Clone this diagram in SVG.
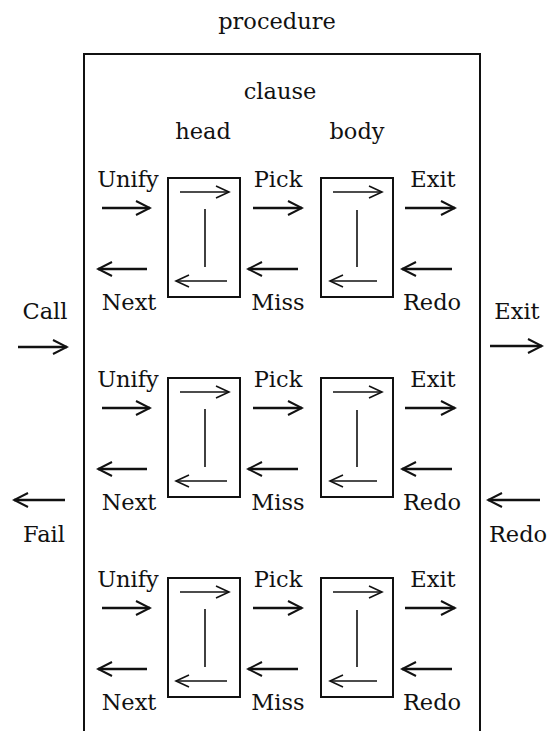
<svg xmlns="http://www.w3.org/2000/svg" width="559" height="731" viewBox="0 0 559 731">
<defs>
<style>
text{font-family:"DejaVu Serif","Liberation Serif",serif;font-size:22.5px;fill:#111;text-anchor:middle}
.box{fill:none;stroke:#111;stroke-width:2}
.a{fill:none;stroke:#111;stroke-width:2.5;marker-end:url(#ah)}
.ai{fill:none;stroke:#111;stroke-width:1.6;marker-end:url(#ahi)}
.ln{fill:none;stroke:#111;stroke-width:1.6}
</style>
<marker id="ah" markerUnits="userSpaceOnUse" viewBox="-16 -9 18 18" markerWidth="18" markerHeight="18" refX="0" refY="0" orient="auto">
<path d="M-14,-7 L0,0 L-14,7" fill="none" stroke="#111" stroke-width="2"/>
</marker>
<marker id="ahi" markerUnits="userSpaceOnUse" viewBox="-16 -9 18 18" markerWidth="18" markerHeight="18" refX="0" refY="0" orient="auto">
<path d="M-13,-6 L0,0 L-13,6" fill="none" stroke="#111" stroke-width="1.6"/>
</marker>
<g id="row">
<text x="128" y="187">Unify</text>
<text x="278" y="187">Pick</text>
<text x="433" y="187">Exit</text>
<text x="129" y="310">Next</text>
<text x="278" y="310">Miss</text>
<text x="432" y="310">Redo</text>
</g>
</defs>
<g id="procedure">
<text x="277" y="29">procedure</text>
<path class="box" d="M84,731 L84,54 L480,54 L480,731"/>
<text x="280" y="99">clause</text>
<text x="203" y="139">head</text>
<text x="357" y="139">body</text>
<text x="45" y="319">Call</text>
<text x="44" y="542">Fail</text>
<text x="517" y="319">Exit</text>
<text x="518" y="542">Redo</text>
</g>
<g id="clause1">
<use href="#row"/>
<g id="head1"><rect class="box" x="168" y="178" width="72" height="119"/></g>
<g id="body1"><rect class="box" x="321" y="178" width="72" height="119"/></g>
</g>
<g id="clause2" transform="translate(0,200)">
<use href="#row"/>
<g id="head2"><rect class="box" x="168" y="178" width="72" height="119"/></g>
<g id="body2"><rect class="box" x="321" y="178" width="72" height="119"/></g>
</g>
<g id="clause3" transform="translate(0,400)">
<use href="#row"/>
<g id="head3"><rect class="box" x="168" y="178" width="72" height="119"/></g>
<g id="body3"><rect class="box" x="321" y="178" width="72" height="119"/></g>
</g>
<g id="connectors">
<path class="a" d="M18,347 L67,347"/>
<path class="a" d="M65,500 L14,500"/>
<path class="a" d="M490,346 L542,346"/>
<path class="a" d="M540,500 L488,500"/>
<g id="conn-row">
<path class="a" d="M102,208 L150,208"/>
<path class="a" d="M253,208 L302,208"/>
<path class="a" d="M405,208 L455,208"/>
<path class="a" d="M147,269 L98,269"/>
<path class="a" d="M298,269 L248,269"/>
<path class="a" d="M452,269 L402,269"/>
<path class="ai" d="M180,192 L229,192"/>
<path class="ln" d="M205,209 L205,267"/>
<path class="ai" d="M227,281 L176,281"/>
<path class="ai" d="M333,192 L382,192"/>
<path class="ln" d="M357,210 L357,267"/>
<path class="ai" d="M377,281 L330,281"/>
</g>
<use href="#conn-row" transform="translate(0,200)"/>
<use href="#conn-row" transform="translate(0,400)"/>
</g>
</svg>
